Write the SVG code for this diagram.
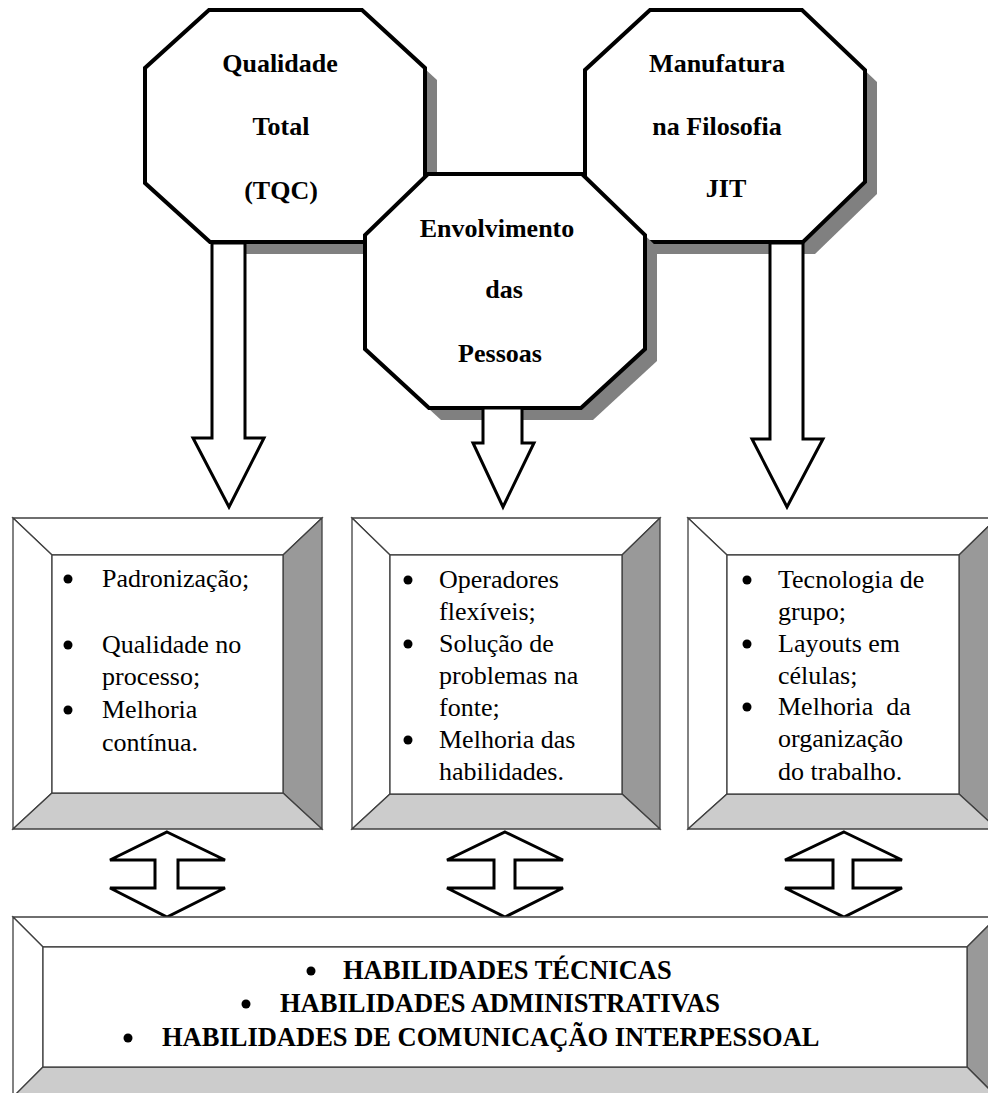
<svg xmlns="http://www.w3.org/2000/svg" width="988" height="1093" viewBox="0 0 988 1093">
<style>
.oct{fill:#fff;stroke:#000;stroke-width:4;stroke-linejoin:miter}
.sh{fill:#808080;stroke:none}
.arr{fill:#fff;stroke:#000;stroke-width:3;stroke-linejoin:miter}
.bv{stroke:#404040;stroke-width:1.3;stroke-linejoin:miter}
.w{fill:#fff}.g1{fill:#999}.g2{fill:#ccc}
.ot{font-family:"Liberation Serif","Times New Roman",serif;font-size:26px;font-weight:bold;text-anchor:middle;fill:#000}
.bt{font-family:"Liberation Serif","Times New Roman",serif;font-size:26px;fill:#000}
.ht{font-family:"Liberation Serif","Times New Roman",serif;font-size:26.5px;font-weight:bold;fill:#000}
.dot{fill:#000}
</style>
<rect width="988" height="1093" fill="#fff"/>

<!-- shadows of octagons 1 and 3 -->
<polygon class="sh" points="221,22 374,22 437,80 437,195 377,254 222,254 157,195 157,80"/>
<polygon class="sh" points="662,22 814,22 877,82 877,194 815,254 657,254 597,194 597,82"/>

<g id="oct-tqc">
<polygon class="oct" points="209,10 362,10 425,68 425,183 365,242 210,242 145,183 145,68"/>
<text class="ot" x="280" y="72">Qualidade</text>
<text class="ot" x="281" y="135">Total</text>
<text class="ot" x="281" y="199">(TQC)</text>
</g>

<g id="oct-jit">
<polygon class="oct" points="650,10 802,10 865,70 865,182 803,242 645,242 585,182 585,70"/>
<text class="ot" x="717" y="72">Manufatura</text>
<text class="ot" x="717" y="135">na Filosofia</text>
<text class="ot" x="726" y="197">JIT</text>
</g>

<g id="connectors">
<polygon class="arr" points="212,243 245,243 245,438 264,438 229,507 193,438 212,438"/>
<polygon class="arr" points="770,243 803,243 803,439 823,439 787,507 752,439 770,439"/>
</g>

<!-- shadow of octagon 2 -->
<polygon class="sh" points="440,186 594,186 657,247 657,361 593,420 441,420 377,361 377,247"/>

<g id="oct-pessoas">
<polygon class="oct" points="428,174 582,174 645,235 645,349 581,408 429,408 365,349 365,235"/>
<text class="ot" x="497" y="237">Envolvimento</text>
<text class="ot" x="504" y="298">das</text>
<text class="ot" x="500" y="362">Pessoas</text>
</g>

<g id="connectors-2">
<polygon class="arr" points="483,408 522,408 522,443 534,443 503,507 473,443 483,443"/>
</g>

<g id="box-tqc">
<polygon class="bv w" points="13,518 322,518 283,555 52,555"/>
<polygon class="bv w" points="13,518 52,555 52,793 13,829"/>
<polygon class="bv g1" points="322,518 322,829 283,793 283,555"/>
<polygon class="bv g2" points="13,829 52,793 283,793 322,829"/>
<rect class="bv w" x="52" y="555" width="231" height="238"/>
<circle class="dot" cx="68" cy="579" r="4.5"/>
<text class="bt" x="102" y="587">Padronização;</text>
<circle class="dot" cx="68" cy="645" r="4.5"/>
<text class="bt" x="102" y="653">Qualidade no</text>
<text class="bt" x="102" y="685">processo;</text>
<circle class="dot" cx="68" cy="710" r="4.5"/>
<text class="bt" x="102" y="718">Melhoria</text>
<text class="bt" x="102" y="751">contínua.</text>
</g>

<g id="box-pessoas">
<polygon class="bv w" points="352,518 660,518 622,555 390,555"/>
<polygon class="bv w" points="352,518 390,555 390,794 352,829"/>
<polygon class="bv g1" points="660,518 660,829 622,794 622,555"/>
<polygon class="bv g2" points="352,829 390,794 622,794 660,829"/>
<rect class="bv w" x="390" y="555" width="232" height="239"/>
<circle class="dot" cx="408" cy="580" r="4.5"/>
<text class="bt" x="439" y="588">Operadores</text>
<text class="bt" x="439" y="620">flexíveis;</text>
<circle class="dot" cx="408" cy="644" r="4.5"/>
<text class="bt" x="439" y="652">Solução de</text>
<text class="bt" x="439" y="684">problemas na</text>
<text class="bt" x="439" y="716">fonte;</text>
<circle class="dot" cx="408" cy="740" r="4.5"/>
<text class="bt" x="439" y="748">Melhoria das</text>
<text class="bt" x="439" y="780">habilidades.</text>
</g>

<g id="box-jit">
<polygon class="bv w" points="688,518 997,518 959,555 727,555"/>
<polygon class="bv w" points="688,518 727,555 727,794 688,829"/>
<polygon class="bv g1" points="997,518 997,829 959,794 959,555"/>
<polygon class="bv g2" points="688,829 727,794 959,794 997,829"/>
<rect class="bv w" x="727" y="555" width="232" height="239"/>
<circle class="dot" cx="747" cy="580" r="4.5"/>
<text class="bt" x="778" y="588">Tecnologia de</text>
<text class="bt" x="778" y="620">grupo;</text>
<circle class="dot" cx="747" cy="644" r="4.5"/>
<text class="bt" x="778" y="652">Layouts em</text>
<text class="bt" x="778" y="684">células;</text>
<circle class="dot" cx="747" cy="707" r="4.5"/>
<text class="bt" x="778" y="715" xml:space="preserve">Melhoria  da</text>
<text class="bt" x="778" y="747">organização</text>
<text class="bt" x="778" y="780">do trabalho.</text>
</g>

<g id="connectors-3">
<path class="arr" d="M167,832 L225,860 L178,860 L178,888 L225,888 L167,917 L110,888 L155,888 L155,860 L110,860 Z"/>
<path class="arr" d="M505,832 L563,860 L515,860 L515,888 L563,888 L505,917 L447,888 L494,888 L494,860 L447,860 Z"/>
<path class="arr" d="M844,832 L902,860 L853,860 L853,888 L902,888 L844,917 L785,888 L833,888 L833,860 L785,860 Z"/>
</g>

<g id="box-habilidades">
<polygon class="bv w" points="13,917 997,917 967,947 43,947"/>
<polygon class="bv w" points="13,917 43,947 43,1067 13,1097"/>
<polygon class="bv g1" points="997,917 997,1097 967,1067 967,947"/>
<polygon class="bv g2" points="13,1097 43,1067 967,1067 997,1097"/>
<rect class="bv w" x="43" y="947" width="924" height="120"/>
<circle class="dot" cx="311" cy="971" r="4.5"/>
<text class="ht" x="343" y="979">HABILIDADES TÉCNICAS</text>
<circle class="dot" cx="246" cy="1004" r="4.5"/>
<text class="ht" x="280" y="1012">HABILIDADES ADMINISTRATIVAS</text>
<circle class="dot" cx="128" cy="1038" r="4.5"/>
<text class="ht" x="162" y="1046">HABILIDADES DE COMUNICAÇÃO INTERPESSOAL</text>
</g>
</svg>
